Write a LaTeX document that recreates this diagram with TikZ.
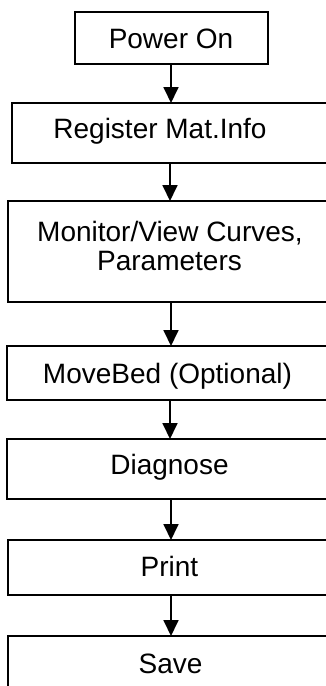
\documentclass[tikz,border=0pt]{standalone}
\usepackage{fontspec}
\setmainfont{Liberation Sans}
\usetikzlibrary{arrows.meta}
\tikzset{
  box/.style={draw=black, line width=2pt, inner sep=0pt, outer sep=0pt, anchor=north west, rectangle},
  lbl/.style={anchor=base, inner sep=0pt, font=\fontsize{28}{29}\selectfont},
  arr/.style={draw=black, line width=1.8pt, -{Triangle[width=15pt,length=16pt]}}
}
\begin{document}
\begin{tikzpicture}[x=1pt,y=-1pt]
\useasboundingbox (0,0) rectangle (326,686);
\clip (0,0) rectangle (326,686);
% boxes
\node[box, minimum width=193pt, minimum height=52pt] (pon) at (75,12) {};
\node[box, minimum width=333pt, minimum height=60pt] (reg) at (12,103) {};
\node[box, minimum width=337pt, minimum height=101pt] (mon) at (8,201) {};
\node[box, minimum width=338pt, minimum height=54pt] (mov) at (7,346) {};
\node[box, minimum width=338pt, minimum height=60pt] (dia) at (7,439) {};
\node[box, minimum width=337pt, minimum height=55pt] (pri) at (8,540) {};
\node[box, minimum width=337pt, minimum height=70pt] (sav) at (8,636) {};
% labels
\node[lbl] (tpon) at (171,48.5) {Power On};
\node[lbl] (treg) at (160,138) {Register Mat.Info};
\node[lbl] (tmon1) at (170,241.5) {Monitor/View Curves,};
\node[lbl] (tmon2) at (169.5,270) {Parameters};
\node[lbl] (tmov) at (167.5,383) {MoveBed (Optional)};
\node[lbl] (tdia) at (169.5,474) {Diagnose};
\node[lbl] (tpri) at (169.5,576) {Print};
\node[lbl] (tsav) at (170.5,673) {Save};
% arrow axes
\coordinate (a1) at (171,0);
\coordinate (a2) at (170,0);
\coordinate (a3) at (171,0);
\coordinate (a4) at (170,0);
\coordinate (a5) at (171,0);
\coordinate (a6) at (171,0);
% connectors
\draw[arr] (pon.south -| a1) -- (reg.north -| a1);
\draw[arr] (reg.south -| a2) -- (mon.north -| a2);
\draw[arr] (mon.south -| a3) -- (mov.north -| a3);
\draw[arr] (mov.south -| a4) -- (dia.north -| a4);
\draw[arr] (dia.south -| a5) -- (pri.north -| a5);
\draw[arr] (pri.south -| a6) -- (sav.north -| a6);
\end{tikzpicture}
\end{document}
